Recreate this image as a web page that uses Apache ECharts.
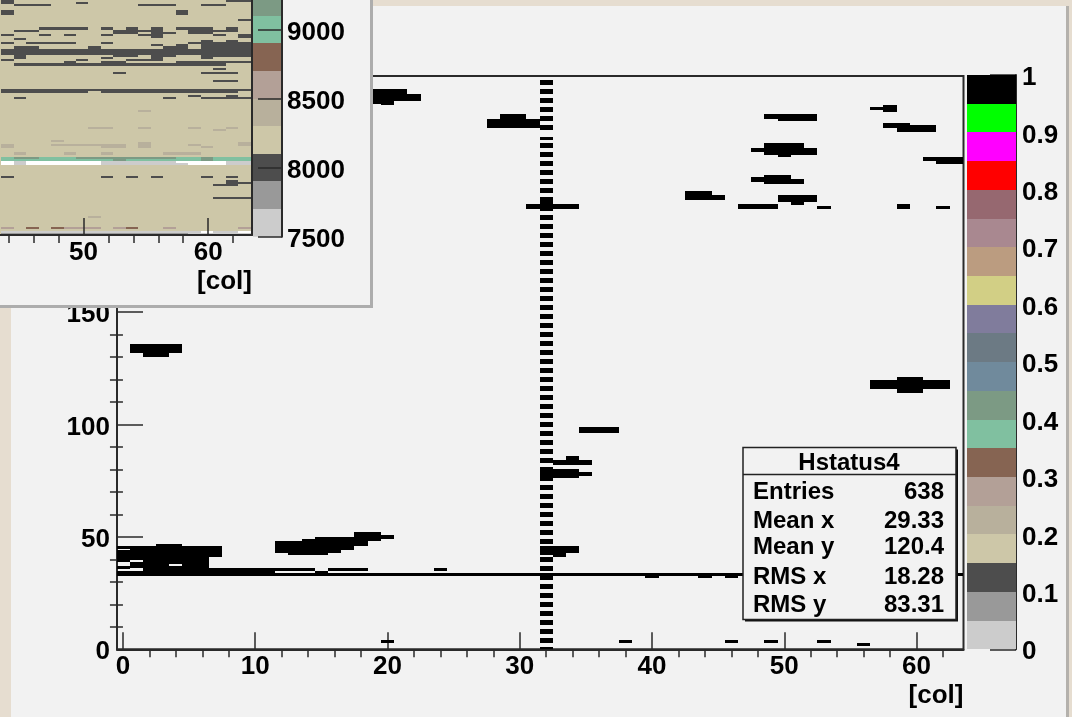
<!DOCTYPE html>
<html>
<head>
<meta charset="utf-8">
<style>
html,body{margin:0;padding:0;background:#e6ddd0;}
#c{width:1072px;height:717px;}
</style>
<script src="https://cdn.jsdelivr.net/npm/echarts@6/dist/echarts.min.js"></script>
</head>
<body>
<div id="c"></div>
<script>
// palette, lowest level first
const palette = ['#cccccc','#999999','#4d4d4d','#cdc7a8','#b8b09c','#b3a097','#866452','#80c0a0','#7c9a84','#708a9c','#6c7a84','#807c9c','#d2cf85','#bb9c80','#a98890','#966870','#ff0000','#ff00ff','#00ff00','#000000'];

// main histogram: [colFirst, colLast, rowFirst, rowLast], content 1
const mainRuns = [
 [0,7,41,43],[1,7,44,45],[0,0,45,45],[3,4,46,46],
 [0,0,39,40],[0,0,36,36],[1,1,40,40],[1,1,36,38],[2,3,36,40],[4,4,38,40],[4,4,36,36],[5,6,36,40],
 [2,11,35,35],[12,14,35,35],[16,18,35,35],[24,24,35,35],[0,11,34,34],[15,15,34,34],[0,63,33,33],
 [12,12,43,47],[13,13,42,47],[14,14,42,48],[15,15,42,49],[16,16,43,49],[17,17,44,49],[18,18,46,51],[19,19,48,51],[20,20,49,50],
 [20,20,3,3],[38,38,3,3],[46,46,3,3],[49,49,3,3],[53,53,3,3],[56,56,2,2],
 [1,4,132,135],[2,3,130,131],
 [35,37,96,98],[33,35,82,83],[34,34,84,85],[33,34,76,79],[35,35,77,78],[32,32,75,80],
 [33,34,43,45],[33,33,41,42],[32,32,42,45],[40,40,32,32],[44,44,32,32],[46,46,32,32],
 [57,58,116,119],[59,60,114,120],[61,62,116,119],
 [18,21,247,248],[18,22,244,246],[20,20,242,243],[18,19,243,243],
 [29,30,236,237],[28,31,232,235],[31,34,196,197],[32,32,195,198],
 [47,49,196,197],[53,53,196,196],[59,59,196,197],[62,62,196,196],
 [43,44,200,203],[45,45,200,201],[50,52,199,201],[51,51,198,198],
 [48,48,208,209],[49,50,207,210],[51,51,207,208],
 [48,48,221,222],[49,49,220,224],[50,50,219,224],[51,51,220,224],[52,52,220,222],
 [61,61,217,218],[62,63,216,218],[49,49,236,237],[50,52,235,237],
 [58,58,232,233],[59,59,230,233],[60,61,230,232],[58,58,239,241],[57,57,240,240],
 [32,32,0,0],[32,32,227,227]
];
// column 32: first row of each two-row dash
const col32DashRows = [3,7,11,15,19,23,27,31,35,39,43,47,51,55,59,63,67,71,75,79,83,87,91,95,99,103,107,111,115,119,123,127,131,135,139,143,147,151,155,159,163,167,171,175,179,183,187,191,195,199,203,207,211,215,219,223,231,235,239,243,247,251];

// inset histogram: [colFirst, colLast, rowFirst, rowLast, content]
const insetRuns = [
 [44,44,109,110,8000],[45,47,108,108,8000],[55,57,108,108,8000],[60,61,108,108,8000],[50,50,109,109,8000],[62,63,110,110,8000],
 [44,44,104,105,8000],[58,58,104,105,8000],[63,63,101,101,8000],
 [47,50,97,97,8000],[45,46,96,96,8000],[52,52,97,97,8000],[53,53,95,96,8000],[54,54,95,97,8000],[55,55,96,96,8000],[55,55,94,94,8000],[56,56,93,97,8000],[57,57,95,95,8000],[58,58,97,97,8000],[59,59,95,97,8000],[60,60,95,97,8000],[61,61,96,96,8000],[61,61,94,94,8000],[62,62,96,97,8000],[63,63,93,94,8000],
 [44,44,94,94,8000],[47,47,94,94,8000],[49,49,94,94,8000],[52,52,94,94,8000],[45,45,92,92,8000],
 [44,44,90,90,8000],[46,49,90,90,8000],[52,52,90,90,8000],[56,56,89,89,8000],[58,58,89,89,8000],[59,59,90,90,8000],
 [44,63,85,87,8000],[45,46,88,88,8000],[51,51,88,88,8000],[54,54,84,84,8000],[56,56,84,84,8000],[57,58,88,88,8000],[60,60,88,91,8000],[61,61,88,90,8000],[62,62,84,91,8000],[63,63,84,90,8000],
 [45,45,83,84,8000],[52,52,83,83,8000],[53,53,84,84,8000],[56,56,82,83,8000],[60,60,83,84,8000],[61,61,84,84,8000],[57,57,84,84,8000],
 [44,44,82,82,8000],[50,50,82,82,8000],[54,55,82,82,8000],
 [45,61,80,80,8000],[49,49,81,81,8000],[52,53,81,81,8000],[58,61,81,81,8000],[62,63,81,81,8000],
 [61,61,78,78,8000],[53,53,76,76,8000],[60,62,76,76,8000],[61,62,72,72,8000],
 [44,50,67,68,8000],[51,51,68,68,8000],[52,62,67,68,8000],[63,63,68,68,8000],
 [59,59,65,65,8000],[62,62,64,65,8000],[45,45,64,64,8000],[57,57,64,64,8000],[60,61,64,64,8000],[63,63,64,64,8000],
 [44,44,27,27,8000],[52,52,27,27,8000],[54,54,27,27,8000],[56,56,27,27,8000],[60,60,27,27,8000],[62,62,27,27,8000],
 [62,62,24,25,8000],[63,63,24,24,8000],[61,62,23,23,8000],[61,63,17,17,8000],
 [55,55,58,58,8400],[51,52,50,50,8400],[55,55,50,50,8400],[59,59,50,50,8400],[62,62,50,50,8400],[61,61,49,49,8400],[48,48,44,44,8400],[48,51,42,42,8400],[52,53,41,42,8400],[55,55,41,43,8400],[60,60,41,41,8400],[59,59,42,42,8400],[63,63,42,43,8400],[44,44,41,42,8400],[45,45,38,38,8400],[49,49,38,38,8400],[52,52,38,38,8400],[57,59,38,38,8400],[51,51,8,8,8400],
 [44,63,35,36,9000],[45,46,36,36,9200],[50,57,36,36,9200],[53,53,35,36,9200],[60,60,35,36,9200],
 [44,44,33,34,0],[46,51,33,34,0],[58,58,34,34,0],[59,61,33,34,0],[45,45,33,34,7600],[52,57,33,34,7600],[58,58,33,33,7600],[62,63,33,34,7600],
 [44,44,3,3,8600],[49,51,3,3,8600],[53,53,3,3,8600],[57,57,3,3,8600],[63,63,3,3,8600],[46,46,3,3,8800],[48,48,3,3,8800],[54,54,3,3,8800],
 [44,58,1,1,7600],[44,58,0,0,7800],[59,63,0,1,7600],[60,60,1,1,0],[63,63,1,1,0]
];

// axis ticks
const mainXMajor = [0,10,20,30,40,50,60];
const mainXMinor = [2,4,6,8,12,14,16,18,22,24,26,28,32,34,36,38,42,44,46,48,52,54,56,58,62];
const mainYMajor = [0,50,100,150,200,250];
const mainYMinor = [10,20,30,40,60,70,80,90,110,120,130,140,160,170,180,190,210,220,230,240];
const barTicks = [0,0.1,0.2,0.3,0.4,0.5,0.6,0.7,0.8,0.9,1];
const insetXMajor = [50,60];
const insetXMinor = [44,46,48,52,54,56,58,62];
const insetBarTicks = [7500,8000,8500,9000];
const xTitle = '[col]';

// stat box
const statTitle = 'Hstatus4';
const statLabels = ['Entries','Mean x','Mean y','RMS x','RMS y'];
const statValues = ['638','29.33','120.4','18.28','83.31'];

const FONT = '"Liberation Sans", Arial, sans-serif';
const INK = '#2a2a2a';
const PANEL = '#f2f2f2';
const BAND_STEP = 0.05, INSET_STEP = 200, INSET_BASE = 7500;

const mainData = mainRuns.concat(col32DashRows.map(r => [32,32,r,r+1]));
const barData = palette.map((c,i) => [i*BAND_STEP,(i+1)*BAND_STEP,i]);
const insetBarData = palette.slice(0,9).map((c,i) => [INSET_BASE+i*INSET_STEP,INSET_BASE+(i+1)*INSET_STEP,i]);

function rectOf(api,x0,x1,y0,y1,fill,minH){
  const a = api.coord([x0,y1]), b = api.coord([x1,y0]);
  const l = Math.round(a[0]), t = Math.round(a[1]), r = Math.round(b[0]), bt = Math.round(b[1]);
  return {type:'rect',shape:{x:l,y:t,width:Math.max(1,r-l),height:Math.max(minH||1,bt-t)},style:{fill}};
}
function mainItem(p,api){
  return rectOf(api,api.value(0)-0.5,api.value(1)+0.5,api.value(2),api.value(3)+1,palette[19],3);
}
function insetItem(p,api){
  const v = api.value(4);
  const fill = v < INSET_BASE ? '#ffffff' : palette[Math.floor((v-INSET_BASE)/INSET_STEP)];
  return rectOf(api,api.value(0)-0.6,api.value(1)+0.4,api.value(2),api.value(3)+1,fill);
}
function bandItem(p,api){
  return rectOf(api,0,1,api.value(0),api.value(1),palette[api.value(2)]);
}

const lab = {color:'#000',fontFamily:FONT,fontWeight:'bold',fontSize:26};
const plain = v => String(v);
const hidden = {show:false};
function ticksOf(values,len,w){
  return {show:true,inside:true,length:len,customValues:values,lineStyle:{color:INK,width:w||1.5}};
}
const line = {show:true,onZero:false,lineStyle:{color:INK,width:2}};
const yLab = {...lab,verticalAlign:'top',lineHeight:6,formatter:plain};

const statRowsY = [492,521,547,577,605];
const graphic = [
  {type:'rect',z:-1,shape:{x:11,y:6,width:1055,height:711},style:{fill:PANEL}},
  {type:'rect',z:-1,shape:{x:1066,y:6,width:3,height:711},style:{fill:'#b4b1ac'}},
  {type:'rect',z:10,shape:{x:0,y:0,width:370,height:305},style:{fill:PANEL}},
  {type:'rect',z:10,shape:{x:370,y:0,width:3,height:308},style:{fill:'#adadad'}},
  {type:'rect',z:10,shape:{x:0,y:305,width:373,height:3},style:{fill:'#adadad'}},
  {type:'rect',z:10,shape:{x:745,y:449.5,width:213,height:172},style:{fill:'#111'}},
  {type:'rect',z:10,shape:{x:743,y:447.5,width:213,height:172},style:{fill:PANEL,stroke:'#222',lineWidth:1.5}},
  {type:'line',z:11,shape:{x1:743,y1:474.5,x2:956,y2:474.5},style:{stroke:'#222',lineWidth:1.5}},
  {type:'text',z:11,x:849,y:463,style:{text:statTitle,font:'bold 24px '+FONT,fill:'#000',textAlign:'center',textVerticalAlign:'middle'}}
];
statLabels.forEach((t,i)=>{
  graphic.push({type:'text',z:11,x:753,y:statRowsY[i],style:{text:t,font:'bold 24px '+FONT,fill:'#000',textAlign:'left',textVerticalAlign:'middle'}});
  graphic.push({type:'text',z:11,x:944,y:statRowsY[i],style:{text:statValues[i],font:'bold 24px '+FONT,fill:'#000',textAlign:'right',textVerticalAlign:'middle'}});
});

const option = {
  backgroundColor:'#e6ddd0',
  animation:false,
  graphic,
  grid:[
    {left:117,top:76,width:846.5,height:573.3,show:true,backgroundColor:'transparent',borderColor:INK,borderWidth:2},
    {left:967,top:75,width:49,height:574.3},
    {z:12,left:0,top:0,width:252,height:235,show:true,backgroundColor:palette[3],borderWidth:0},
    {z:12,left:253,top:0,width:29,height:236.7}
  ],
  xAxis:[
    {type:'value',gridIndex:0,min:-0.45,max:63.55,splitLine:hidden,axisLine:line,axisTick:ticksOf(mainXMajor,17),
     axisLabel:{...lab,margin:5,formatter:plain,customValues:mainXMajor},name:xTitle,nameLocation:'end',nameGap:0,nameMoveOverlap:false,
     nameTextStyle:{...lab,align:'right',verticalAlign:'top',padding:[34,0,0,0]}},
    {type:'value',gridIndex:0,min:-0.45,max:63.55,splitLine:hidden,axisLine:hidden,axisTick:ticksOf(mainXMinor,8),axisLabel:hidden},
    {type:'value',gridIndex:1,min:0,max:1,show:false},
    {type:'value',gridIndex:2,z:13,min:43.3,max:63.52,splitLine:hidden,axisLine:line,axisTick:ticksOf(insetXMajor,17),
     axisLabel:{...lab,margin:5,formatter:plain,customValues:insetXMajor},name:xTitle,nameLocation:'end',nameGap:0,nameMoveOverlap:false,
     nameTextStyle:{...lab,align:'right',verticalAlign:'top',padding:[34,0,0,0]}},
    {type:'value',gridIndex:2,z:13,min:43.3,max:63.52,splitLine:hidden,axisLine:hidden,axisTick:ticksOf(insetXMinor,8),axisLabel:hidden},
    {type:'value',gridIndex:3,z:13,min:0,max:1,show:false}
  ],
  yAxis:[
    {type:'value',gridIndex:0,min:0,max:255,splitLine:hidden,axisLine:line,axisTick:ticksOf(mainYMajor,26),
     axisLabel:{...yLab,margin:7,customValues:mainYMajor}},
    {type:'value',gridIndex:0,min:0,max:255,splitLine:hidden,axisLine:hidden,axisTick:ticksOf(mainYMinor,13),axisLabel:hidden},
    {type:'value',gridIndex:1,position:'right',min:0,max:1,splitLine:hidden,axisLine:line,axisTick:ticksOf(barTicks,26),
     axisLabel:{...yLab,margin:6,customValues:barTicks}},
    {type:'value',gridIndex:2,z:13,position:'right',min:0,max:110.95,splitLine:hidden,axisLine:line,axisTick:hidden,axisLabel:hidden},
    {type:'value',gridIndex:3,z:13,position:'right',min:7500,max:9215,splitLine:hidden,axisLine:line,axisTick:ticksOf(insetBarTicks,24),
     axisLabel:{...yLab,margin:5,customValues:insetBarTicks}}
  ],
  series:[
    {type:'custom',name:'Hstatus4',xAxisIndex:0,yAxisIndex:0,z:2,clip:true,silent:true,coordinateSystem:'cartesian2d',
     encode:{x:[0,1],y:[2,3]},data:mainData,renderItem:mainItem},
    {type:'custom',name:'z scale',xAxisIndex:2,yAxisIndex:2,z:2,clip:true,silent:true,
     encode:{y:[0,1]},data:barData,renderItem:bandItem},
    {type:'custom',name:'inset',xAxisIndex:3,yAxisIndex:3,z:12,clip:true,silent:true,
     encode:{x:[0,1],y:[2,3]},data:insetRuns,renderItem:insetItem},
    {type:'custom',name:'inset z scale',xAxisIndex:5,yAxisIndex:4,z:12,clip:true,silent:true,
     encode:{y:[0,1]},data:insetBarData,renderItem:bandItem}
  ]
};
echarts.init(document.getElementById('c'),null,{renderer:'canvas'}).setOption(option);
</script>
</body>
</html>
